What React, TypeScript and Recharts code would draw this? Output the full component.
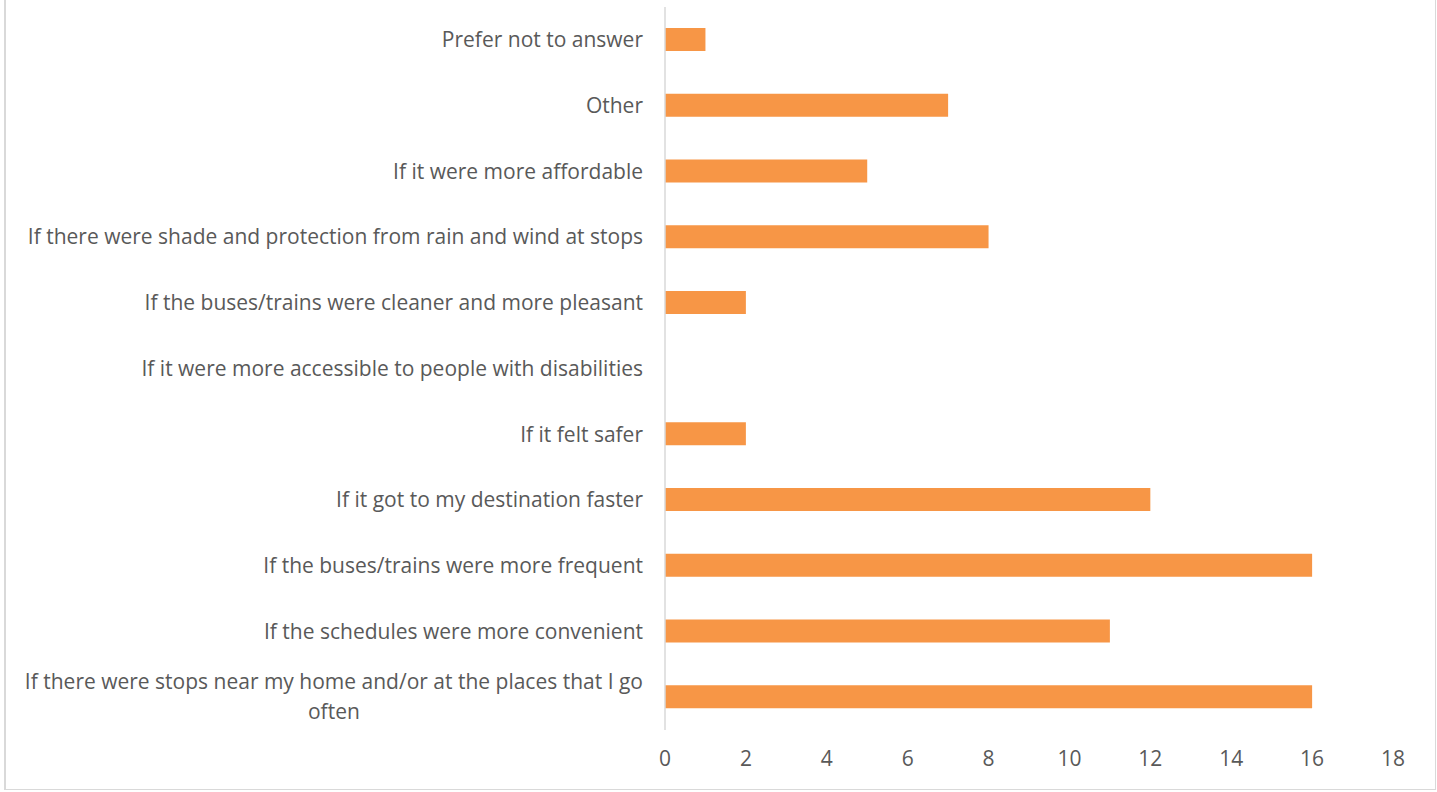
import { useLayoutEffect, useRef, useState } from "react";
import { Bar, BarChart, XAxis, YAxis } from "recharts";

const categories = [
  "Prefer not to answer",
  "Other",
  "If it were more affordable",
  "If there were shade and protection from rain and wind at stops",
  "If the buses/trains were cleaner and more pleasant",
  "If it were more accessible to people with disabilities",
  "If it felt safer",
  "If it got to my destination faster",
  "If the buses/trains were more frequent",
  "If the schedules were more convenient",
  "If there were stops near my home and/or at the places that I go often",
];
const counts = [1, 7, 5, 8, 2, 0, 2, 12, 16, 11, 16];
const xTicks = [0, 2, 4, 6, 8, 10, 12, 14, 16, 18];

const data = categories.map((c, i) => ({ label: c, count: counts[i] }));

const TEXT = "#595959";
const FONT = "'Open Sans', sans-serif";
const FS = 21;

// word-wrap long category names like Excel does
function wrap(text: string, maxChars = 63): string[] {
  const words = text.split(" ");
  const lines: string[] = [];
  let cur = "";
  for (const w of words) {
    const next = cur ? cur + " " + w : w;
    if (next.length > maxChars && cur) {
      lines.push(cur);
      cur = w;
    } else cur = next;
  }
  if (cur) lines.push(cur);
  return lines;
}

function CategoryTick(props: any) {
  const { x, y, payload } = props;
  const lines = wrap(String(payload.value));
  const ref = useRef<SVGTextElement>(null);
  const [w, setW] = useState(0);
  useLayoutEffect(() => {
    if (ref.current) setW(ref.current.getComputedTextLength());
  }, [payload.value]);
  const lh = 30;
  const y0 = y - ((lines.length - 1) * lh) / 2;
  return (
    <g>
      {lines.map((l, i) =>
        i === 0 ? (
          <text
            key={i}
            ref={ref}
            x={x}
            y={y0}
            dy="0.35em"
            textAnchor="end"
            fill={TEXT}
            fontSize={FS}
            fontFamily={FONT}
          >
            {l}
          </text>
        ) : (
          <text
            key={i}
            x={x - w / 2}
            y={y0 + i * lh}
            dy="0.35em"
            textAnchor="middle"
            fill={TEXT}
            fontSize={FS}
            fontFamily={FONT}
          >
            {l}
          </text>
        )
      )}
    </g>
  );
}

export default function App() {
  return (
    <div style={{ position: "absolute", left: 0, top: 0, width: 1437, height: 792, background: "#fff" }}>
      <div
        style={{
          position: "absolute",
          left: 4,
          top: -2,
          width: 1429,
          height: 790,
          border: "1px solid #d9d9d9",
          borderLeftWidth: 2,
        }}
      />
      <BarChart
        width={1437}
        height={792}
        data={data}
        layout="vertical"
        margin={{ top: 7, right: 44, bottom: 32, left: 0 }}
        barCategoryGap={21}
        style={{ position: "absolute", left: 0, top: 0 }}
      >
        <XAxis
          type="number"
          domain={[0, 18]}
          ticks={xTicks}
          axisLine={false}
          tickLine={false}
          tickMargin={15}
          tick={{ fill: TEXT, fontSize: FS, fontFamily: FONT }}
        />
        <YAxis
          type="category"
          dataKey="label"
          width={665}
          axisLine={{ stroke: "#d9d9d9", strokeWidth: 1.5 }}
          tickLine={false}
          tickSize={0}
          tickMargin={22}
          interval={0}
          tick={<CategoryTick />}
        />
        <Bar dataKey="count" fill="#f79646" barSize={23} isAnimationActive={false} />
      </BarChart>
    </div>
  );
}
